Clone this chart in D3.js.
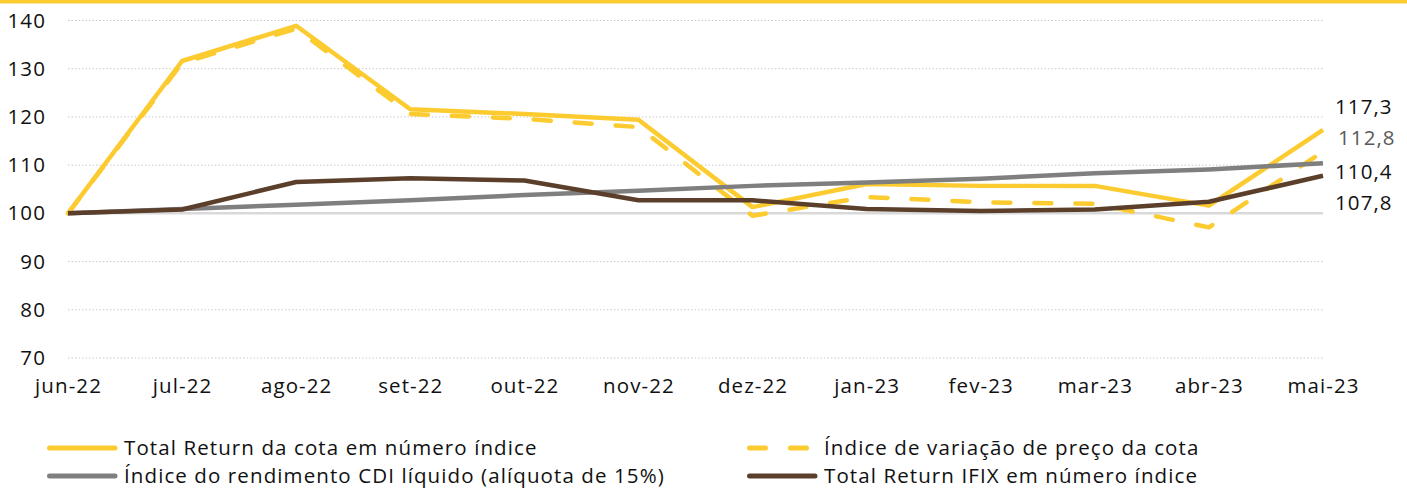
<!DOCTYPE html>
<html>
<head>
<meta charset="utf-8">
<script src="https://cdn.jsdelivr.net/npm/d3@7"></script>
<style>
  body { margin: 0; background: #fff; }
  text { font-family: "Open Sans", "Noto Sans", sans-serif; fill: #111; letter-spacing: 1.1px; }
</style>
</head>
<body>
<svg id="chart"></svg>
<script>
//-------------------------------------------------
// Data
//-------------------------------------------------
var months = ["jun-22","jul-22","ago-22","set-22","out-22","nov-22","dez-22","jan-23","fev-23","mar-23","abr-23","mai-23"];
var totalReturnCota = [100, 131.6, 138.9, 121.6, 120.6, 119.4, 101.3, 106.1, 105.7, 105.7, 101.6, 117.3];
var precoCota       = [100, 131.2, 138.3, 120.6, 119.6, 117.9, 99.5, 103.4, 102.3, 102.0, 97.1, 112.8];
var cdiLiquido      = [100, 100.9, 101.8, 102.7, 103.8, 104.7, 105.7, 106.4, 107.2, 108.3, 109.1, 110.4];
var ifixReturn      = [100, 100.8, 106.5, 107.3, 106.8, 102.7, 102.7, 100.9, 100.5, 100.8, 102.4, 107.8];
var yTicks = [70, 80, 90, 100, 110, 120, 130, 140];
var endLabels = ["117,3", "112,8", "110,4", "107,8"];
var legendNames = ["Total Return da cota em número índice", "Índice de variação de preço da cota",
                   "Índice do rendimento CDI líquido (alíquota de 15%)", "Total Return IFIX em número índice"];

var yellow = "#FBCB30", gray = "#7F7F7F", brown = "#5B3F2B";
var width = 1407, height = 488;
var fontSize = "20.5px";

var svg = d3.select("#chart").attr("width", width).attr("height", height);

// top border stripe
svg.append("rect").attr("x", 0).attr("y", 0).attr("width", width).attr("height", 3.5).attr("fill", yellow);

var x = d3.scalePoint().domain(months).range([68, 1323]);
var y = d3.scaleLinear().domain([70, 140]).range([358, 20.5]);

// gridlines (dotted), 100 line solid
svg.append("g").selectAll("line")
  .data(yTicks.filter(function(t){ return t != 100; }))
  .enter().append("line")
  .attr("x1", 68).attr("x2", 1323)
  .attr("y1", function(d){ return y(d); }).attr("y2", function(d){ return y(d); })
  .attr("stroke", "#C9C9C9").attr("stroke-width", 1).attr("stroke-dasharray", "1.5,2");

svg.append("line")
  .attr("x1", 68).attr("x2", 1323).attr("y1", y(100)).attr("y2", y(100))
  .attr("stroke", "#D9D9D9").attr("stroke-width", 2.5);

// y axis labels
var yAxis = d3.axisLeft(y).tickValues(yTicks).tickSize(0).tickPadding(0);
var gy = svg.append("g").attr("transform", "translate(46,0)").call(yAxis);
gy.select(".domain").remove();
gy.selectAll("text").style("font-size", fontSize).style("font-family", null).attr("fill", null);

// x axis labels
var xAxis = d3.axisBottom(x).tickSize(0).tickPadding(0);
var gx = svg.append("g").attr("transform", "translate(0,378)").call(xAxis);
gx.select(".domain").remove();
gx.selectAll("text").style("font-size", fontSize).style("font-family", null).attr("fill", null);

var line = d3.line().x(function(d, i){ return x(months[i]); }).y(function(d){ return y(d); });

svg.append("path").datum(totalReturnCota).attr("d", line)
  .attr("fill", "none").attr("stroke", yellow).attr("stroke-width", 4.5).attr("stroke-linejoin", "round");
svg.append("path").datum(precoCota).attr("d", line)
  .attr("fill", "none").attr("stroke", yellow).attr("stroke-width", 4.5)
  .attr("stroke-dasharray", "17,24").attr("stroke-linecap", "round").attr("stroke-linejoin", "round");
svg.append("path").datum(cdiLiquido).attr("d", line)
  .attr("fill", "none").attr("stroke", gray).attr("stroke-width", 4.5).attr("stroke-linejoin", "round");
svg.append("path").datum(ifixReturn).attr("d", line)
  .attr("fill", "none").attr("stroke", brown).attr("stroke-width", 4.5).attr("stroke-linejoin", "round");

// end labels
var labelY = [107, 138, 172, 203];
svg.append("g").selectAll("text").data(endLabels).enter().append("text")
  .attr("x", function(d, i){ return i == 1 ? 1338 : 1335; })
  .attr("y", function(d, i){ return labelY[i]; })
  .attr("dy", "0.35em")
  .style("font-size", fontSize)
  .style("fill", function(d, i){ return i == 1 ? "#595959" : "#111"; })
  .text(function(d){ return d; });

// legend
var legendItems = [
  {name: legendNames[0], color: yellow, dash: null, x: 47, y: 448},
  {name: legendNames[1], color: yellow, dash: "16,25", x: 747, y: 448},
  {name: legendNames[2], color: gray, dash: null, x: 47, y: 476},
  {name: legendNames[3], color: brown, dash: null, x: 747, y: 476}
];
var lg = svg.append("g").selectAll("g").data(legendItems).enter().append("g");
lg.append("line")
  .attr("x1", function(d){ return d.x + 2.5; }).attr("x2", function(d){ return d.x + 68; })
  .attr("y1", function(d){ return d.y; }).attr("y2", function(d){ return d.y; })
  .attr("stroke", function(d){ return d.color; }).attr("stroke-width", 5)
  .attr("stroke-linecap", "round")
  .attr("stroke-dasharray", function(d){ return d.dash; });
lg.append("text")
  .attr("x", function(d){ return d.x + 77; }).attr("y", function(d){ return d.y; })
  .attr("dy", "0.35em").style("font-size", fontSize)
  .text(function(d){ return d.name; });
</script>
</body>
</html>
